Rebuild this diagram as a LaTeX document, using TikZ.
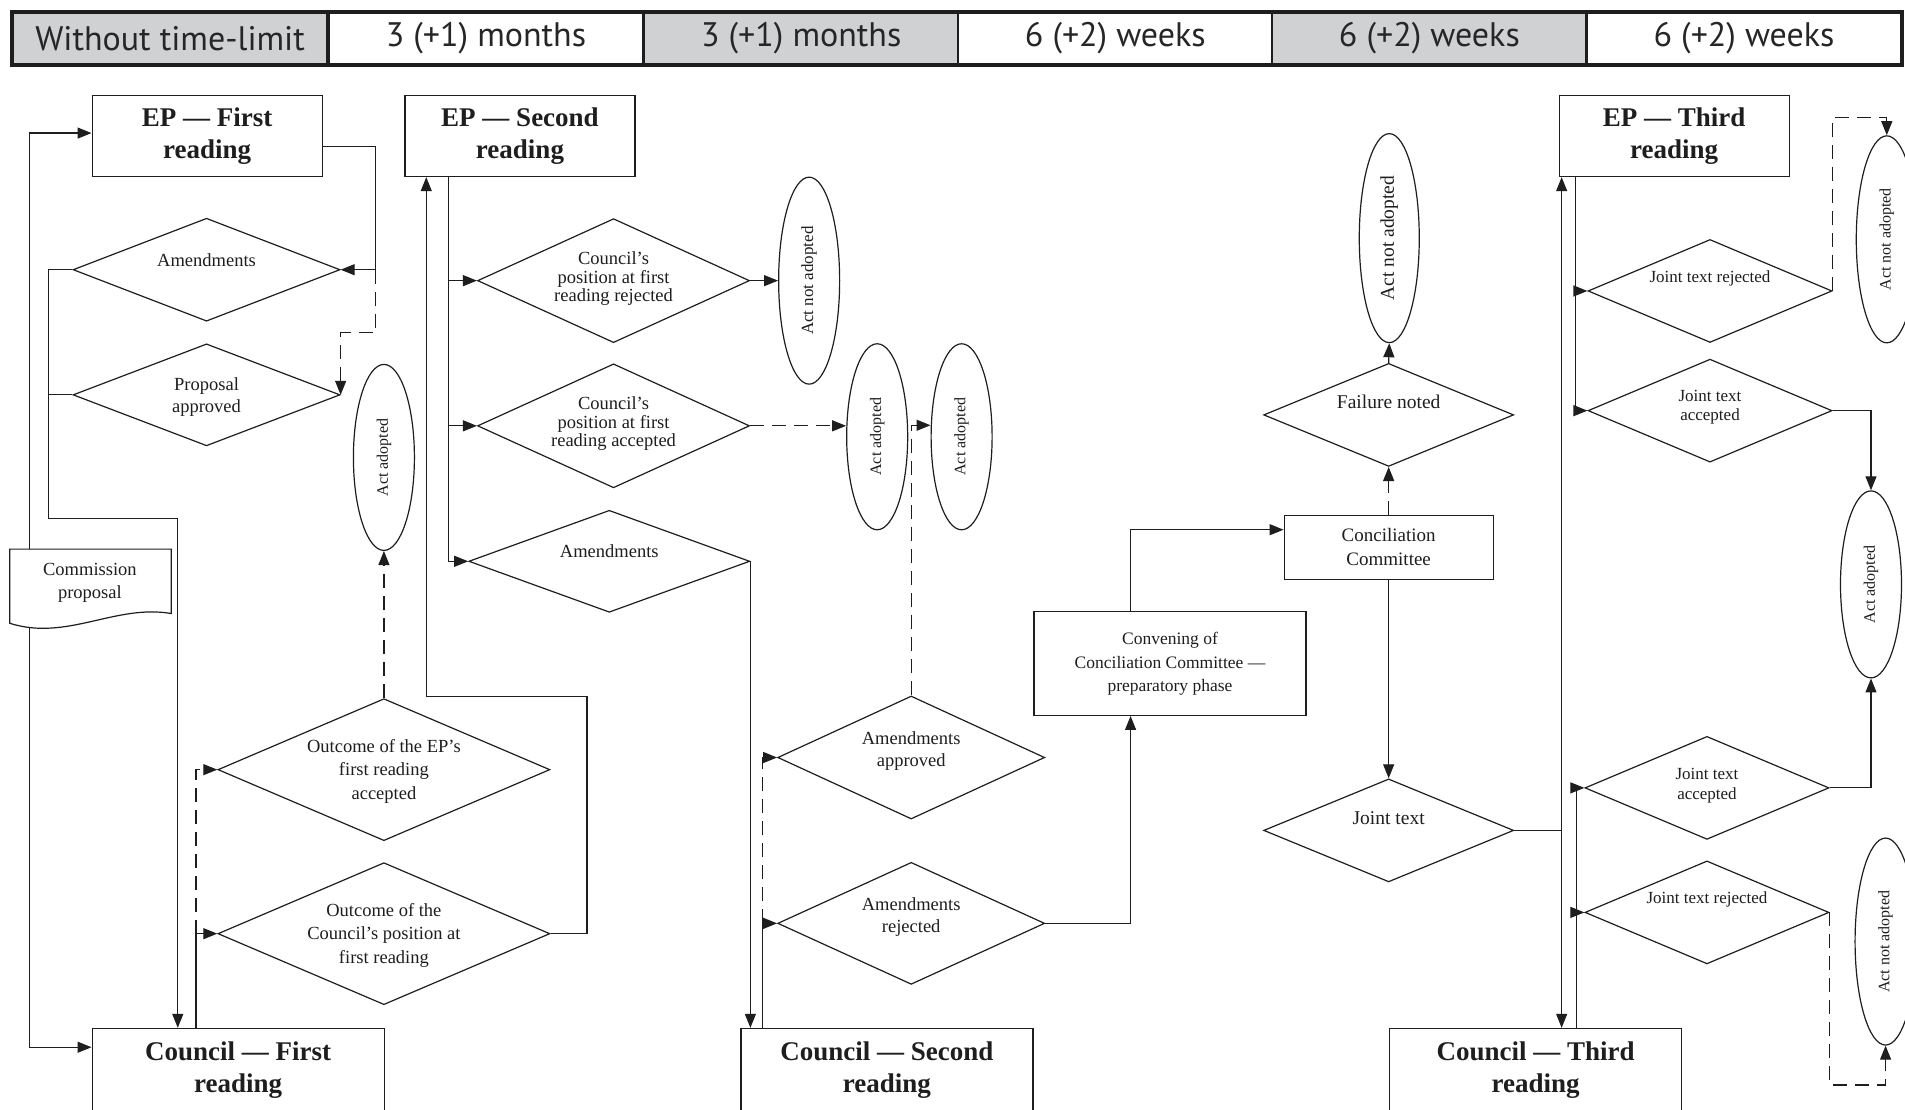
\documentclass[tikz,border=0pt]{standalone}
\usepackage{fontspec}
\usepackage{graphicx}
\setmainfont{Liberation Serif}
\newfontfamily\hdrfont{PT Sans}
\usetikzlibrary{shapes.geometric,arrows.meta,calc}
\definecolor{hdrgray}{RGB}{208,209,211}
\definecolor{ink}{RGB}{30,30,30}
\newcommand\dtext[2][0pt]{\raisebox{#1}[0pt][0pt]{\makebox[0pt]{\begin{tabular}[c]{@{}c@{}}#2\end{tabular}}}}
\newcommand\fs[2]{\fontsize{#1}{#2}\selectfont}
\begin{document}
\begin{tikzpicture}[x=1.2149pt,y=-1.2149pt, line width=1.2pt, color=ink,
  hcell/.style={draw, line width=2.5pt, rectangle, minimum width=315pt, minimum height=51pt, inner sep=0pt, font=\hdrfont\fs{34}{36}, text=black!85},
  box/.style={draw, rectangle, inner sep=0pt, align=center},
  rbox/.style={box, font=\fs{27}{32}\bfseries},
  dia/.style={draw, diamond, inner sep=0pt, font=\fs{18.5}{22}},
  ell/.style={draw, ellipse, inner sep=0pt, minimum width=61pt, minimum height=186pt, font=\fs{16}{16}},
  arr/.style={-{Triangle[length=14pt,width=11pt]}},
  dsh/.style={dash pattern=on 14pt off 8pt},
]
\clip (0,0) rectangle (1568,913);
\fill[white] (0,0) rectangle (1568,913);

% header
\node[hcell, fill=hdrgray] (h1) at (140,31.5) {Without time-limit};
\node[hcell, fill=white] (h2) at (400,31.5) {3 (+1) months};
\node[hcell, fill=hdrgray] (h3) at (659.5,31.5) {3 (+1) months};
\node[hcell, fill=white] (h4) at (918,31.5) {6 (+2) weeks};
\node[hcell, fill=hdrgray] (h5) at (1176.5,31.5) {6 (+2) weeks};
\node[hcell, fill=white] (h6) at (1435.5,31.5) {6 (+2) weeks};
\draw[line width=3pt] (h1.north west) rectangle (h6.south east);

% reading boxes
\node[rbox, minimum width=230pt, minimum height=81pt] (ep1) at (170.5,112) {EP — First\\reading};
\node[rbox, minimum width=230pt, minimum height=81pt] (ep2) at (428,112) {EP — Second\\reading};
\node[rbox, minimum width=230pt, minimum height=81pt] (ep3) at (1378,112) {EP — Third\\reading};
\node[rbox, minimum width=292pt, minimum height=84pt, anchor=north] (c1) at (196,846) {Council — First\\reading};
\node[rbox, minimum width=292pt, minimum height=84pt, anchor=north] (c2) at (730,846) {Council — Second\\reading};
\node[rbox, minimum width=292pt, minimum height=84pt, anchor=north] (c3) at (1264,846) {Council — Third\\reading};

% commission proposal (document shape)
\draw[fill=white] (8,452) -- (141,452) -- (141,505) .. controls (95,497) and (55,528) .. (8,513) -- cycle;
\node[font=\fs{18.5}{23}, align=center, inner sep=0pt] (doc) at (74,480) {Commission\\proposal};

% left column diamonds
\node[dia, minimum width=267pt, minimum height=103pt] (amL) at (170,222) {\dtext[3pt]{Amendments}};
\node[dia, minimum width=267pt, minimum height=102pt] (propL) at (170,325) {\dtext[-7pt]{Proposal\\approved}};
\node[ell] (actL) at (316,376.5) {\rotatebox{90}{Act adopted}};
\node[dia, minimum width=332pt, minimum height=142pt, font=\fs{18.5}{23.5}] (outEP) at (316,633.5) {\dtext[-5.5pt]{Outcome of the EP’s\\first reading\\accepted}};
\node[dia, minimum width=332pt, minimum height=142pt, font=\fs{18.5}{23.5}] (outC) at (316,768.5) {\dtext[-5.5pt]{Outcome of the\\Council’s position at\\first reading}};

% second reading column
\node[dia, minimum width=272pt, minimum height=124pt, font=\fs{18.5}{18}] (crej) at (505,231) {\dtext[-3pt]{Council’s\\position at first\\reading rejected}};
\node[dia, minimum width=272pt, minimum height=124pt, font=\fs{18.5}{18}] (cacc) at (505,350.5) {\dtext[-3pt]{Council’s\\position at first\\reading accepted}};
\node[dia, minimum width=281pt, minimum height=102pt] (amM) at (501.5,462) {\dtext[4pt]{Amendments}};
\node[ell, minimum height=207pt, font=\fs{17}{17}] (nad1) at (666,231) {\rotatebox{90}{Act not adopted}};
\node[ell] (ad1) at (722,359.5) {\rotatebox{90}{Act adopted}};
\node[ell] (ad2) at (791.5,359.5) {\rotatebox{90}{Act adopted}};
\node[dia, minimum width=267pt, minimum height=123pt] (amApp) at (750,623.5) {\dtext[2pt]{Amendments\\approved}};
\node[dia, minimum width=267pt, minimum height=122pt] (amRej) at (750,760) {\dtext[1.5pt]{Amendments\\rejected}};

% conciliation
\node[box, minimum width=272pt, minimum height=104pt, font=\fs{17.5}{23.5}] (conv) at (963,546) {\raisebox{4pt}{\begin{tabular}{@{}c@{}}Convening of\\Conciliation Committee —\\preparatory phase\end{tabular}}};
\node[box, minimum width=209pt, minimum height=64pt, font=\fs{19}{24}] (cc) at (1143,450.5) {Conciliation\\Committee};
\node[dia, minimum width=250pt, minimum height=103pt, font=\fs{19.5}{22}] (fail) at (1143,341.5) {\dtext[6pt]{Failure noted}};
\node[ell, minimum width=60pt, minimum height=209pt, font=\fs{19.5}{19.5}] (nad2) at (1143.5,196) {\rotatebox{90}{Act not adopted}};
\node[dia, minimum width=250pt, minimum height=103pt, font=\fs{19.5}{22}] (jt) at (1143,683.5) {\dtext[5pt]{Joint text}};

% third reading column
\node[dia, minimum width=244pt, minimum height=103pt, font=\fs{17}{19.5}] (jr1) at (1407.5,239.5) {\dtext[8pt]{Joint text rejected}};
\node[dia, minimum width=244pt, minimum height=103pt, font=\fs{17}{19.5}] (ja1) at (1407.5,338) {\dtext[-1pt]{Joint text\\accepted}};
\node[dia, minimum width=244pt, minimum height=103pt, font=\fs{17}{19.5}] (ja2) at (1405,648.5) {\dtext[-2pt]{Joint text\\accepted}};
\node[dia, minimum width=244pt, minimum height=103pt, font=\fs{17}{19.5}] (jr2) at (1405,751) {\dtext[8pt]{Joint text rejected}};
\node[ell, minimum height=207pt, font=\fs{16}{16}] (nad3) at (1553,197) {\rotatebox{90}{Act not adopted}};
\node[ell, minimum height=187pt, font=\fs{16}{16}] (ad3) at (1540,481) {\rotatebox{90}{Act adopted}};
\node[ell, minimum height=207pt, font=\fs{16}{16}] (nad4) at (1552,775) {\rotatebox{90}{Act not adopted}};

% ---------- connectors ----------
\coordinate (doctop) at (24,452);
\coordinate (docbot) at (24,517);
\draw[arr] (doctop) |- ([yshift=3pt]ep1.west);
\draw[arr] (docbot) |- ([yshift=-19.4pt]c1.north west);

\coordinate (k1) at (309,222);
\draw[arr] ([yshift=-10.3pt]ep1.east) -| (k1) -- (amL.east);
\draw[dsh,arr] (k1) -- ++(0,52) -| (propL.east);

\coordinate (j1) at (40,427);
\draw (amL.west) -| (j1);
\draw (propL.west) -- (propL.west -| j1);
\draw[arr] (j1) -| ($(c1.north west)+(71,0)$);

\coordinate (u1) at ($(c1.north west)+(86,0)$);
\draw[arr] (u1) |- (outC.west);
\draw[dsh,arr] (u1 |- outC.west) |- (outEP.west);
\draw[dsh,arr] (outEP.north) -- (actL.south);
\draw[arr] (outC.east) -| ($(outC.east)+(30,-195)$) -| ($(ep2.south west)+(18,0)$);

\coordinate (s2) at ($(ep2.south west)+(36,0)$);
\draw[arr] (s2) |- (crej.west);
\draw[arr] (s2) |- (cacc.west);
\draw[arr] (s2) |- (amM.west);
\draw[arr] (crej.east) -- (crej.east -| nad1.west);
\draw[dsh,arr] (cacc.east) -- (cacc.east -| ad1.west);
\draw[arr] (amM.east) -- (amM.east |- c2.north);

\coordinate (u2) at ($(c2.north west)+(18,0)$);
\draw[arr] (u2) |- (amRej.west);
\draw[dsh,arr] (u2 |- amRej.west) |- (amApp.west);
\draw[dsh,arr] (amApp.north) |- ([yshift=11.5pt]ad2.west);

\draw[arr] (amRej.east) -| ($(conv.south west)+(80,0)$);
\draw[arr] ($(conv.north west)+(80,0)$) |- ($(cc.west)+(0,-14.5)$);
\draw[dsh,arr] (cc.north) -- (fail.south);
\draw[arr] (fail.north) -- (nad2.south);
\draw[arr] (cc.south) -- (jt.north);

\coordinate (vj) at ($(jt.east)+(39,0)$);
\draw (jt.east) -- (vj);
\draw[arr] (vj) -- (vj |- ep3.south);
\draw[arr] (vj) -- (vj |- c3.north);

\coordinate (s3) at ($(ep3.south west)+(14,0)$);
\draw[arr] (s3) |- (jr1.west);
\draw[arr] (s3) |- (ja1.west);
\coordinate (u3) at ($(c3.north west)+(154,0)$);
\draw[arr] (u3) |- (ja2.west);
\draw[arr] (u3) |- (jr2.west);

\draw[dsh,arr] (jr1.east) -- ++(0,-143) -| (nad3.north);
\draw[arr] (ja1.east) -| (ad3.north);
\draw[arr] (ja2.east) -| (ad3.south);
\draw[dsh,arr] (jr2.east) -- ++(0,142) -| (nad4.south);
\end{tikzpicture}
\end{document}
